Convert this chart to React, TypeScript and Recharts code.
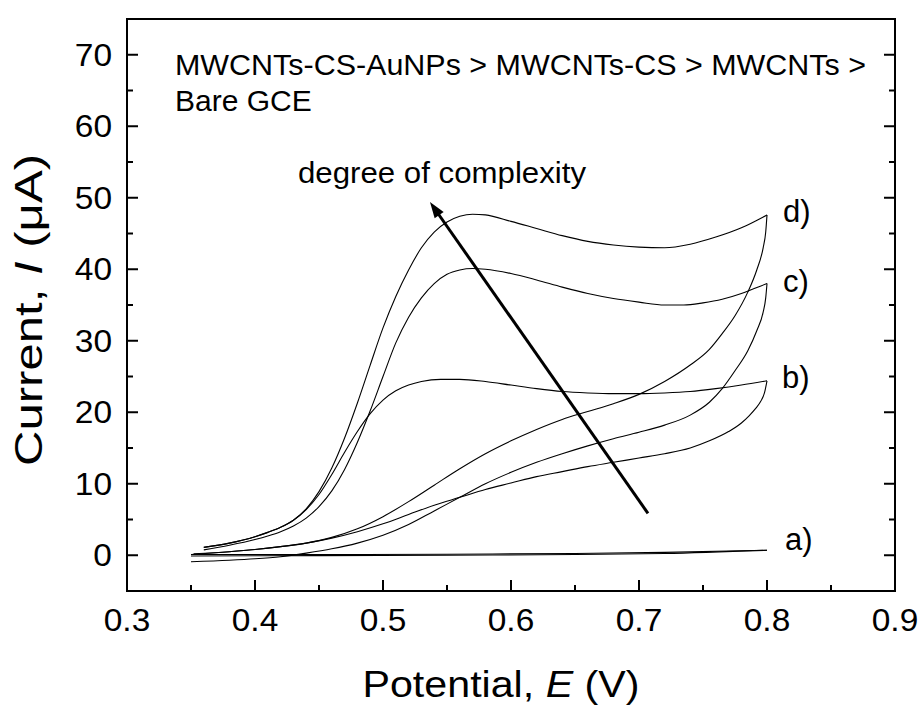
import { LineChart, Line, XAxis, YAxis, ReferenceLine, ReferenceDot } from 'recharts';

type Pt = [number, number];

// cyclic voltammograms, [E (V), I (uA)], each branch listed with E ascending
// a) bare GCE
const aForward: Pt[] = [
  [0.35, 0.1], [0.45, 0.1], [0.55, 0.15], [0.65, 0.25], [0.72, 0.4], [0.8, 0.7],
];
const aReverse: Pt[] = [
  [0.35, -0.1], [0.45, -0.05], [0.55, 0.0], [0.65, 0.1], [0.72, 0.25], [0.8, 0.7],
];

// b) MWCNTs
const bForward: Pt[] = [
  [0.36, 1.1], [0.38, 1.7], [0.4, 2.6], [0.41, 3.2], [0.42, 3.9], [0.43, 4.9],
  [0.44, 6.4], [0.45, 8.5], [0.46, 11.3], [0.47, 14.4], [0.48, 17.3], [0.49, 19.8],
  [0.5, 21.7], [0.51, 23.0], [0.52, 23.8], [0.53, 24.3], [0.545, 24.6], [0.56, 24.6],
  [0.58, 24.3], [0.6, 23.8], [0.62, 23.3], [0.64, 22.9], [0.66, 22.7], [0.68, 22.6],
  [0.7, 22.6], [0.72, 22.7], [0.74, 22.9], [0.76, 23.3], [0.78, 23.8], [0.8, 24.4],
];
const bReverse: Pt[] = [
  [0.35, 0.1], [0.38, 0.5], [0.4, 0.8], [0.42, 1.2], [0.44, 1.7], [0.46, 2.4],
  [0.48, 3.3], [0.5, 4.4], [0.52, 5.7], [0.54, 7.0], [0.56, 8.1], [0.58, 9.2],
  [0.6, 10.1], [0.62, 11.0], [0.64, 11.7], [0.66, 12.4], [0.68, 13.0], [0.7, 13.6],
  [0.72, 14.2], [0.74, 15.0], [0.755, 16.0], [0.77, 17.3], [0.78, 18.5], [0.786, 19.5],
  [0.791, 20.5], [0.795, 21.5], [0.798, 22.7], [0.8, 24.4],
];

// c) MWCNTs-CS
const cForward: Pt[] = [
  [0.36, 0.75], [0.38, 1.4], [0.4, 2.2], [0.41, 2.7], [0.42, 3.3], [0.43, 4.1],
  [0.44, 5.2], [0.45, 6.8], [0.46, 9.0], [0.47, 12.0], [0.48, 15.8], [0.49, 20.2],
  [0.5, 25.0], [0.51, 29.7], [0.52, 33.3], [0.53, 36.0], [0.54, 38.0], [0.55, 39.3],
  [0.56, 39.9], [0.57, 40.1], [0.58, 40.0], [0.6, 39.4], [0.62, 38.5], [0.64, 37.5],
  [0.66, 36.6], [0.68, 35.9], [0.7, 35.4], [0.72, 35.0], [0.735, 35.0], [0.75, 35.3],
  [0.765, 35.8], [0.78, 36.6], [0.79, 37.3], [0.8, 38.0],
];
const cReverse: Pt[] = [
  [0.35, -0.9], [0.38, -0.7], [0.4, -0.5], [0.42, -0.2], [0.44, 0.3], [0.46, 0.9],
  [0.48, 1.7], [0.5, 2.8], [0.52, 4.3], [0.54, 6.2], [0.56, 8.1], [0.58, 10.0],
  [0.6, 11.6], [0.62, 13.0], [0.64, 14.2], [0.66, 15.3], [0.68, 16.3], [0.7, 17.2],
  [0.72, 18.2], [0.74, 19.6], [0.755, 21.4], [0.765, 23.3], [0.775, 25.8], [0.785, 28.6],
  [0.792, 31.4], [0.797, 34.0], [0.799, 36.0], [0.8, 38.0],
];

// d) MWCNTs-CS-AuNPs
const dForward: Pt[] = [
  [0.36, 1.1], [0.38, 1.7], [0.4, 2.6], [0.41, 3.2], [0.42, 3.9], [0.43, 4.9],
  [0.44, 6.5], [0.45, 8.9], [0.46, 12.2], [0.47, 16.4], [0.48, 21.3], [0.49, 26.6],
  [0.5, 31.8], [0.51, 36.2], [0.52, 39.9], [0.53, 43.0], [0.54, 45.2], [0.55, 46.6],
  [0.56, 47.4], [0.57, 47.7], [0.58, 47.6], [0.6, 46.7], [0.62, 45.7], [0.64, 44.7],
  [0.66, 43.9], [0.68, 43.4], [0.7, 43.1], [0.72, 43.0], [0.74, 43.5], [0.76, 44.5],
  [0.78, 45.8], [0.8, 47.6],
];
const dReverse: Pt[] = [
  [0.352, 0.2], [0.38, 0.5], [0.4, 0.8], [0.42, 1.2], [0.44, 1.7], [0.46, 2.5],
  [0.48, 3.7], [0.5, 5.4], [0.52, 7.5], [0.54, 9.8], [0.56, 12.1], [0.58, 14.2],
  [0.6, 16.0], [0.62, 17.6], [0.64, 19.0], [0.66, 20.1], [0.68, 21.2], [0.7, 22.5],
  [0.72, 24.3], [0.74, 26.6], [0.755, 28.8], [0.765, 31.0], [0.775, 33.5], [0.785, 36.8],
  [0.792, 39.9], [0.797, 43.0], [0.799, 45.2], [0.8, 47.6],
];

const branches: Pt[][] = [aForward, aReverse, bForward, bReverse, cForward, cReverse, dForward, dReverse];

const xTicks = [0.3, 0.35, 0.4, 0.45, 0.5, 0.55, 0.6, 0.65, 0.7, 0.75, 0.8, 0.85, 0.9];
const yTicks = [-5, 0, 5, 10, 15, 20, 25, 30, 35, 40, 45, 50, 55, 60, 65, 70, 75];

const curveNames = ['a)', 'b)', 'c)', 'd)'];
const noteLines = ['MWCNTs-CS-AuNPs > MWCNTs-CS > MWCNTs >', 'Bare GCE'];
const arrowText = 'degree of complexity';

// where the annotations sit, in data units
const curveNamePos = [
  { x: 0.814, y: 0.7 },
  { x: 0.8117, y: 23.4 },
  { x: 0.8125, y: 36.8 },
  { x: 0.8125, y: 46.6 },
];
const notePos = { x: 0.3375, y: 67.2 };
const arrowTextPos = { x: 0.4336, y: 52.0 };
const arrowFrom = { x: 0.707, y: 5.86 };
const arrowTo = { x: 0.5367, y: 49.4 };

const FONT = '"Liberation Sans", Arial, Helvetica, sans-serif';

const charW: Record<string, number> = { '.': 0.278, '-': 0.333 };
const textW = (s: string, fs: number) => [...s].reduce((w, c) => w + (charW[c] ?? 0.556), 0) * fs;

const isMajorX = (v: number) => Math.round(v * 100) % 10 === 0;
const isMajorY = (v: number) => v % 10 === 0;

const BottomTick = (props: any) => {
  const { x, y, payload } = props;
  const major = isMajorX(payload.value);
  const label = payload.value.toFixed(1);
  return (
    <g>
      <line x1={x} x2={x} y1={y} y2={y - (major ? 11 : 6)} stroke="#000" strokeWidth={2} />
      {major && (
        <text
          x={x}
          y={y + 40}
          textAnchor="middle"
          fontFamily={FONT}
          fontSize={31}
          fill="#000"
          textLength={textW(label, 31) * 1.08}
          lengthAdjust="spacingAndGlyphs"
        >
          {label}
        </text>
      )}
    </g>
  );
};

const TopTick = (props: any) => {
  const { x, y, payload } = props;
  const major = isMajorX(payload.value);
  return <line x1={x} x2={x} y1={y} y2={y + (major ? 11 : 6)} stroke="#000" strokeWidth={2} />;
};

const LeftTick = (props: any) => {
  const { x, y, payload } = props;
  const major = isMajorY(payload.value);
  const label = String(payload.value);
  const showLabel = major && payload.value >= 0 && payload.value <= 70;
  return (
    <g>
      <line x1={x} x2={x + (major ? 11 : 6)} y1={y} y2={y} stroke="#000" strokeWidth={2} />
      {showLabel && (
        <text
          x={x - 15}
          y={y + 11}
          textAnchor="end"
          fontFamily={FONT}
          fontSize={31}
          fill="#000"
          textLength={textW(label, 31) * 1.08}
          lengthAdjust="spacingAndGlyphs"
        >
          {label}
        </text>
      )}
    </g>
  );
};

const RightTick = (props: any) => {
  const { x, y, payload } = props;
  const major = isMajorY(payload.value);
  return <line x1={x} x2={x - (major ? 11 : 6)} y1={y} y2={y} stroke="#000" strokeWidth={2} />;
};

const XTitle = (props: any) => {
  const vb = props.viewBox;
  const cx = vb.x + vb.width / 2 - 10;
  return (
    <text
      x={cx}
      y={vb.y + 106}
      textAnchor="middle"
      fontFamily={FONT}
      fontSize={37}
      fill="#000"
      textLength={277}
      lengthAdjust="spacingAndGlyphs"
    >
      Potential, <tspan fontStyle="italic">E</tspan> (V)
    </text>
  );
};

const YTitle = (props: any) => {
  const vb = props.viewBox;
  const cx = vb.x + vb.width - 85;
  const cy = vb.y + vb.height / 2 + 5;
  return (
    <text
      x={cx}
      y={cy}
      transform={`rotate(-90 ${cx} ${cy})`}
      textAnchor="middle"
      fontFamily={FONT}
      fontSize={39}
      fill="#000"
      textLength={312}
      lengthAdjust="spacingAndGlyphs"
    >
      Current, <tspan fontStyle="italic">I</tspan> (μA)
    </text>
  );
};

const textShape = (lines: string[], fontSize: number, lineGap: number, length?: number) => (p: any) => (
  <text x={p.cx} y={p.cy} fontFamily={FONT} fontSize={fontSize} fill="#000">
    {lines.map((l, i) => (
      <tspan
        key={i}
        x={p.cx}
        dy={i === 0 ? 0 : lineGap}
        textLength={i === 0 && length ? length : undefined}
        lengthAdjust={i === 0 && length ? 'spacingAndGlyphs' : undefined}
      >
        {l}
      </tspan>
    ))}
  </text>
);

const ArrowShape = (p: any) => {
  const { x1, y1, x2, y2 } = p;
  const dx = x2 - x1;
  const dy = y2 - y1;
  const len = Math.hypot(dx, dy);
  const ux = dx / len;
  const uy = dy / len;
  const head = 16;
  const half = 5.5;
  const bx = x2 - ux * head;
  const by = y2 - uy * head;
  return (
    <g>
      <line x1={x1} y1={y1} x2={bx + ux * 2} y2={by + uy * 2} stroke="#000" strokeWidth={3} />
      <polygon
        points={`${x2},${y2} ${bx - uy * half},${by + ux * half} ${bx + uy * half},${by - ux * half}`}
        fill="#000"
      />
    </g>
  );
};

const frameLine = { stroke: '#000', strokeWidth: 2, strokeLinecap: 'square' as const };

export default function App() {
  return (
    <div style={{ position: 'absolute', left: 0, top: 0, width: 919, height: 709, background: '#fff' }}>
      <LineChart width={919} height={709} margin={{ top: 18, right: 23, bottom: 117, left: 126 }}>
        <XAxis
          type="number"
          dataKey="e"
          domain={[0.3, 0.9]}
          ticks={xTicks}
          interval={0}
          allowDataOverflow
          height={1}
          tickSize={0}
          tickMargin={0}
          tickLine={false}
          tick={<BottomTick />}
          axisLine={frameLine}
          label={<XTitle />}
        />
        <XAxis
          xAxisId="top"
          orientation="top"
          type="number"
          domain={[0.3, 0.9]}
          ticks={xTicks}
          interval={0}
          allowDataOverflow
          height={1}
          tickSize={0}
          tickMargin={0}
          tickLine={false}
          tick={<TopTick />}
          axisLine={frameLine}
        />
        <YAxis
          type="number"
          domain={[-5, 75]}
          ticks={yTicks}
          interval={0}
          allowDataOverflow
          width={1}
          tickSize={0}
          tickMargin={0}
          tickLine={false}
          tick={<LeftTick />}
          axisLine={frameLine}
          label={<YTitle />}
        />
        <YAxis
          yAxisId="right"
          orientation="right"
          type="number"
          domain={[-5, 75]}
          ticks={yTicks}
          interval={0}
          allowDataOverflow
          width={1}
          tickSize={0}
          tickMargin={0}
          tickLine={false}
          tick={<RightTick />}
          axisLine={frameLine}
        />

        {branches.map((b, i) => (
          <Line
            key={i}
            data={b.map(([e, cur]) => ({ e, cur }))}
            dataKey="cur"
            type="monotone"
            stroke="#000"
            strokeWidth={1.1}
            dot={false}
            activeDot={false}
            isAnimationActive={false}
          />
        ))}

        <ReferenceLine segment={[arrowFrom, arrowTo]} shape={ArrowShape} />

        {curveNames.map((name, i) => (
          <ReferenceDot
            key={name}
            x={curveNamePos[i].x}
            y={curveNamePos[i].y}
            r={0}
            shape={textShape([name], 31, 0)}
          />
        ))}
        <ReferenceDot x={notePos.x} y={notePos.y} r={0} shape={textShape(noteLines, 30, 36, 691)} />
        <ReferenceDot x={arrowTextPos.x} y={arrowTextPos.y} r={0} shape={textShape([arrowText], 30, 0, 288)} />
      </LineChart>
    </div>
  );
}
